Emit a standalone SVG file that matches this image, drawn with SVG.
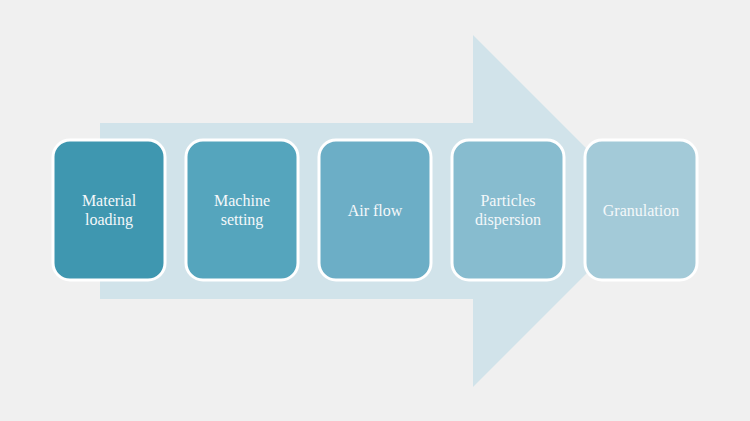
<svg xmlns="http://www.w3.org/2000/svg" width="750" height="421" viewBox="0 0 750 421">
<style>
.box{stroke:#ffffff;stroke-width:3}
.t{font-family:"Liberation Serif","DejaVu Serif",serif;font-size:16px;fill:#f4f8fa;text-anchor:middle}
</style>
<rect width="750" height="421" fill="#f0f0f0"/>
<g id="arrow">
<polygon points="100,123 473,123 473,35 649,211 473,387 473,299 100,299" fill="#d1e3ea"/>
</g>
<g id="n1"><rect class="box" x="53" y="140" width="112" height="140" rx="17" fill="#3f97b0"/>
<text class="t" x="109" y="206">Material</text><text class="t" x="109" y="225">loading</text></g>
<g id="n2"><rect class="box" x="186" y="140" width="112" height="140" rx="17" fill="#55a5bd"/>
<text class="t" x="242" y="206">Machine</text><text class="t" x="242" y="225">setting</text></g>
<g id="n3"><rect class="box" x="319" y="140" width="112" height="140" rx="17" fill="#6caec6"/>
<text class="t" x="375" y="216">Air flow</text></g>
<g id="n4"><rect class="box" x="452" y="140" width="112" height="140" rx="17" fill="#87bccf"/>
<text class="t" x="508" y="206">Particles</text><text class="t" x="508" y="225">dispersion</text></g>
<g id="n5"><rect class="box" x="585" y="140" width="112" height="140" rx="17" fill="#a3cad8"/>
<text class="t" x="641" y="216">Granulation</text></g>
<g id="connectors"></g>
</svg>
